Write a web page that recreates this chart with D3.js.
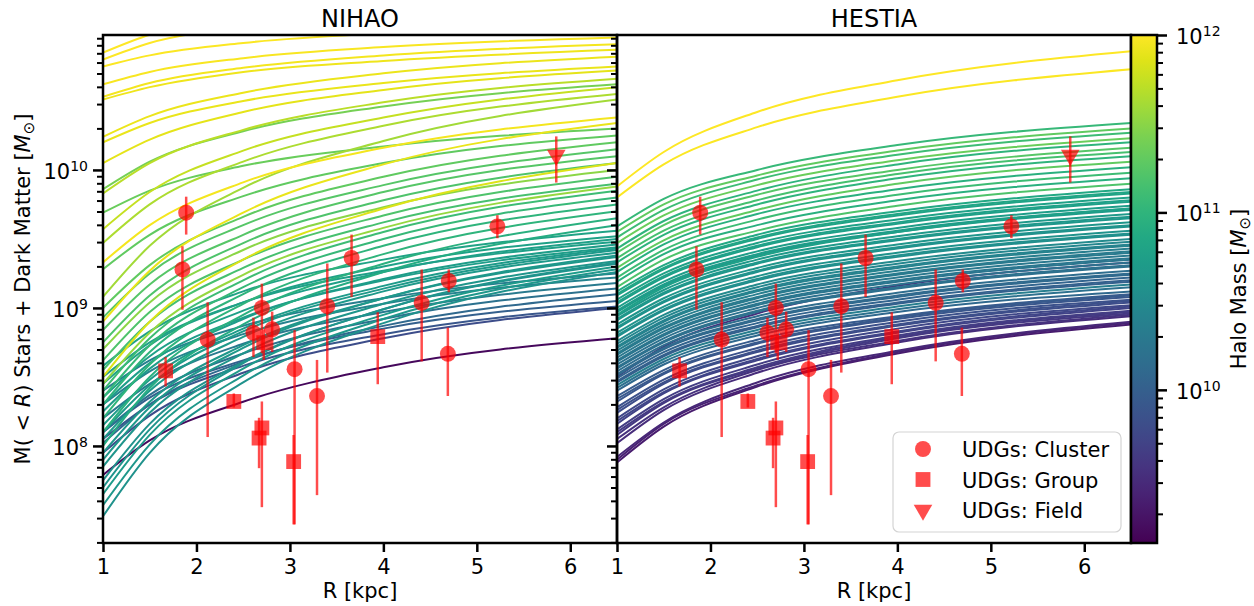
<!DOCTYPE html>
<html>
<head>
<meta charset="utf-8">
<script src="https://d3js.org/d3.v7.min.js"></script>
<style>
  body { margin: 0; background: #fff; }
  text { font-family: "DejaVu Sans", sans-serif; fill: #000; }
</style>
</head>
<body>
<script>
const profileRadii = [1, 1.5, 2.5, 4, 6.5];

// NIHAO: log10 halo mass, and log10 M(<R) at profileRadii
const nihaoHaloMass = [
  12.0, 12.0, 11.98, 11.97, 11.95, 11.93, 11.92, 11.9, 11.88, 11.95,
  11.9, 11.85, 11.75, 11.7, 11.65, 11.6, 11.4, 11.35, 11.3, 11.3,
  11.25, 11.25, 11.2, 11.5, 11.2, 11.15, 11.55, 11.1, 11.05, 11.0,
  11.0, 10.95, 10.9, 10.8, 10.78, 10.75, 10.72, 10.7, 10.68, 10.65,
  10.63, 10.6, 10.7, 10.65, 10.6, 10.75, 10.72, 10.68, 10.66, 10.62,
  10.4, 10.3, 10.2, 10.1, 10.0, 9.9, 9.8, 10.35, 9.2
];
const nihaoProfiles = [
  [10.85, 10.98, 11.10, 11.20, 11.27],
  [10.80, 10.92, 11.04, 11.13, 11.20],
  [10.75, 10.83, 10.92, 10.99, 11.05],
  [10.62, 10.71, 10.81, 10.89, 10.96],
  [10.53, 10.63, 10.74, 10.83, 10.91],
  [10.51, 10.60, 10.71, 10.79, 10.87],
  [10.24, 10.39, 10.56, 10.70, 10.82],
  [10.20, 10.34, 10.50, 10.63, 10.75],
  [10.05, 10.22, 10.42, 10.58, 10.72],
  [9.33, 9.60, 9.91, 10.16, 10.38],
  [8.90, 9.27, 9.69, 10.04, 10.34],
  [8.50, 8.90, 9.35, 9.72, 10.05],
  [9.57, 9.84, 10.14, 10.38, 10.60],
  [9.83, 10.05, 10.29, 10.49, 10.66],
  [9.47, 9.75, 10.06, 10.32, 10.55],
  [9.08, 9.45, 9.87, 10.21, 10.51],
  [9.86, 10.06, 10.28, 10.46, 10.62],
  [9.69, 9.85, 10.03, 10.17, 10.30],
  [9.28, 9.53, 9.81, 10.05, 10.25],
  [9.00, 9.31, 9.66, 9.95, 10.20],
  [8.93, 9.25, 9.60, 9.89, 10.15],
  [8.84, 9.17, 9.53, 9.84, 10.10],
  [8.75, 9.09, 9.47, 9.78, 10.05],
  [8.70, 9.04, 9.42, 9.73, 10.00],
  [8.62, 8.97, 9.35, 9.67, 9.95],
  [8.55, 8.90, 9.29, 9.62, 9.90],
  [8.45, 8.82, 9.24, 9.58, 9.88],
  [8.40, 8.78, 9.20, 9.55, 9.85],
  [8.35, 8.73, 9.15, 9.50, 9.80],
  [8.30, 8.68, 9.10, 9.45, 9.75],
  [8.20, 8.59, 9.03, 9.39, 9.70],
  [8.10, 8.50, 8.95, 9.32, 9.65],
  [8.00, 8.42, 8.88, 9.26, 9.60],
  [8.58, 8.83, 9.12, 9.35, 9.56],
  [8.45, 8.73, 9.04, 9.30, 9.52],
  [8.35, 8.65, 8.98, 9.26, 9.50],
  [8.25, 8.56, 8.92, 9.21, 9.46],
  [8.15, 8.48, 8.85, 9.16, 9.43],
  [8.05, 8.40, 8.79, 9.12, 9.40],
  [7.95, 8.32, 8.73, 9.07, 9.37],
  [7.85, 8.24, 8.67, 9.03, 9.34],
  [7.75, 8.16, 8.61, 8.99, 9.32],
  [7.65, 8.08, 8.56, 8.95, 9.30],
  [7.57, 8.01, 8.51, 8.92, 9.28],
  [7.49, 7.95, 8.46, 8.89, 9.26],
  [8.50, 8.75, 9.04, 9.27, 9.48],
  [8.30, 8.60, 8.93, 9.20, 9.44],
  [8.10, 8.44, 8.83, 9.14, 9.42],
  [7.90, 8.28, 8.71, 9.07, 9.38],
  [7.70, 8.12, 8.60, 8.99, 9.33],
  [8.30, 8.54, 8.81, 9.03, 9.22],
  [8.20, 8.45, 8.74, 8.97, 9.18],
  [8.10, 8.37, 8.67, 8.92, 9.14],
  [8.02, 8.30, 8.61, 8.87, 9.10],
  [8.10, 8.35, 8.62, 8.85, 9.05],
  [8.05, 8.30, 8.58, 8.81, 9.01],
  [7.95, 8.22, 8.53, 8.78, 9.00],
  [8.40, 8.62, 8.87, 9.07, 9.25],
  [7.79, 8.04, 8.32, 8.57, 8.78]
];

// HESTIA: same layout
const hestiaHaloMass = [
  12.0, 11.98, 11.05, 11.3, 11.1, 11.35, 11.0, 11.25, 11.15, 11.0,
  11.3, 10.95, 11.1, 10.95, 11.2, 10.85, 10.8, 10.78, 10.75, 10.72,
  10.7, 10.68, 10.65, 10.63, 10.6, 10.58, 10.55, 10.5, 10.75, 10.45,
  10.4, 10.35, 10.3, 10.28, 10.25, 10.2, 10.18, 10.15, 10.1, 10.05,
  10.0, 10.35, 10.2, 10.1, 9.95, 9.9, 9.85, 9.8, 9.75, 9.7,
  9.65, 9.6, 9.55, 9.5, 9.45, 9.4, 9.35, 9.5,
  10.42, 10.32, 10.26, 10.19, 10.12, 10.02,
  10.82, 10.76, 10.71, 10.66, 10.61, 10.56,
  9.92, 9.82, 9.72, 9.62
];
const hestiaProfiles = [
  [9.88, 10.13, 10.42, 10.65, 10.86],
  [9.80, 10.04, 10.31, 10.53, 10.73],
  [9.59, 9.79, 10.00, 10.18, 10.34],
  [9.55, 9.75, 9.96, 10.14, 10.30],
  [9.51, 9.71, 9.93, 10.11, 10.27],
  [9.47, 9.67, 9.89, 10.07, 10.23],
  [9.43, 9.63, 9.85, 10.04, 10.20],
  [9.40, 9.60, 9.82, 10.00, 10.16],
  [9.36, 9.56, 9.78, 9.97, 10.13],
  [9.33, 9.53, 9.75, 9.94, 10.10],
  [9.29, 9.49, 9.71, 9.90, 10.06],
  [9.26, 9.46, 9.68, 9.86, 10.02],
  [9.22, 9.42, 9.64, 9.82, 9.98],
  [9.19, 9.39, 9.60, 9.78, 9.94],
  [9.15, 9.35, 9.56, 9.74, 9.90],
  [9.12, 9.31, 9.53, 9.70, 9.86],
  [9.09, 9.28, 9.50, 9.67, 9.83],
  [9.06, 9.25, 9.47, 9.64, 9.80],
  [9.03, 9.22, 9.44, 9.61, 9.77],
  [9.00, 9.19, 9.41, 9.58, 9.74],
  [8.97, 9.16, 9.38, 9.55, 9.71],
  [8.94, 9.13, 9.35, 9.52, 9.68],
  [8.91, 9.10, 9.32, 9.49, 9.65],
  [8.88, 9.07, 9.29, 9.46, 9.62],
  [8.85, 9.04, 9.26, 9.43, 9.59],
  [8.82, 9.01, 9.23, 9.40, 9.56],
  [8.79, 8.98, 9.20, 9.37, 9.53],
  [8.76, 8.95, 9.17, 9.34, 9.50],
  [8.95, 9.15, 9.37, 9.55, 9.72],
  [8.74, 8.93, 9.15, 9.32, 9.48],
  [8.71, 8.90, 9.12, 9.29, 9.45],
  [8.69, 8.88, 9.10, 9.27, 9.43],
  [8.66, 8.85, 9.07, 9.24, 9.40],
  [8.64, 8.83, 9.05, 9.22, 9.38],
  [8.61, 8.80, 9.02, 9.19, 9.35],
  [8.59, 8.78, 9.00, 9.17, 9.33],
  [8.56, 8.75, 8.97, 9.14, 9.30],
  [8.54, 8.73, 8.94, 9.11, 9.27],
  [8.51, 8.70, 8.91, 9.08, 9.24],
  [8.49, 8.68, 8.89, 9.06, 9.22],
  [8.46, 8.65, 8.86, 9.03, 9.19],
  [8.44, 8.63, 8.84, 9.01, 9.17],
  [8.42, 8.61, 8.82, 8.99, 9.15],
  [8.40, 8.59, 8.80, 8.97, 9.12],
  [8.36, 8.55, 8.77, 8.94, 9.10],
  [8.32, 8.52, 8.74, 8.92, 9.08],
  [8.28, 8.48, 8.71, 8.90, 9.06],
  [8.24, 8.45, 8.68, 8.87, 9.04],
  [8.20, 8.41, 8.65, 8.85, 9.02],
  [8.16, 8.38, 8.62, 8.82, 9.00],
  [8.12, 8.34, 8.59, 8.80, 8.98],
  [8.08, 8.31, 8.56, 8.78, 8.96],
  [8.05, 8.28, 8.55, 8.76, 8.95],
  [8.02, 8.26, 8.53, 8.75, 8.94],
  [7.92, 8.17, 8.46, 8.69, 8.90],
  [7.90, 8.16, 8.44, 8.68, 8.89],
  [7.88, 8.14, 8.43, 8.67, 8.88],
  [8.50, 8.72, 8.96, 9.16, 9.33],
  [8.72, 8.91, 9.13, 9.30, 9.46],
  [8.67, 8.86, 9.08, 9.25, 9.41],
  [8.62, 8.81, 9.03, 9.20, 9.36],
  [8.57, 8.76, 8.98, 9.15, 9.31],
  [8.52, 8.71, 8.92, 9.09, 9.25],
  [8.47, 8.66, 8.87, 9.04, 9.20],
  [9.10, 9.29, 9.51, 9.68, 9.84],
  [9.04, 9.23, 9.45, 9.62, 9.78],
  [8.98, 9.17, 9.39, 9.56, 9.72],
  [8.92, 9.11, 9.33, 9.50, 9.66],
  [8.86, 9.05, 9.27, 9.44, 9.60],
  [8.80, 8.99, 9.21, 9.38, 9.54],
  [8.34, 8.53, 8.75, 8.93, 9.09],
  [8.26, 8.46, 8.69, 8.88, 9.05],
  [8.18, 8.39, 8.63, 8.83, 9.01],
  [8.10, 8.32, 8.57, 8.79, 8.97]
];

// observed UDGs (same in both panels)
const udgEnv = [
  'Cluster', 'Cluster', 'Cluster', 'Cluster', 'Cluster', 'Cluster', 'Cluster',
  'Cluster', 'Cluster', 'Cluster', 'Cluster', 'Cluster', 'Cluster', 'Cluster',
  'Group', 'Group', 'Group', 'Group', 'Group', 'Group', 'Group',
  'Field'
];
const udgR = [1.89, 1.85, 2.12, 2.61, 2.70, 2.81, 3.05, 3.29, 3.40, 3.66, 4.41, 4.70, 4.69, 5.22,
  1.67, 2.40, 2.70, 2.67, 2.72, 3.04, 3.94,
  5.85];
const udgMass = [4.9e9, 1.9e9, 5.9e8, 6.6e8, 1.0e9, 7.0e8, 3.6e8, 2.3e8, 1.03e9, 2.3e9, 1.09e9, 1.57e9, 4.65e8, 3.9e9,
  3.5e8, 2.1e8, 1.35e8, 1.14e8, 5.6e8, 7.7e7, 6.2e8,
  1.28e10];
const udgMassLo = [3.4e9, 0.97e9, 1.16e8, 4.4e8, 4.7e8, 4.8e8, 2.7e7, 4.4e7, 3.4e8, 1.2e9, 4.1e8, 1.3e9, 2.3e8, 3.2e9,
  2.7e8, 1.9e8, 3.6e7, 6.9e7, 4.2e8, 2.7e7, 2.8e8,
  8.1e9];
const udgMassHi = [6.4e9, 2.8e9, 1.1e9, 8.5e8, 1.5e9, 9.4e8, 6.9e8, 4.2e8, 2.1e9, 3.4e9, 1.9e9, 1.9e9, 7.2e8, 4.7e9,
  4.4e8, 2.4e8, 2.1e8, 1.6e8, 7.0e8, 1.2e8, 9.3e8,
  1.75e10];

const panelTitles = ['NIHAO', 'HESTIA'];
const xTicks = [1, 2, 3, 4, 5, 6];
const yMajor = [1e8, 1e9, 1e10];
const cbMajor = [1e10, 1e11, 1e12];
const legendEnvs = ['Cluster', 'Group', 'Field'];

// ---- layout ----
const plotTop = 35, plotBottom = 543;
const panelBounds = [[103, 617], [617, 1131]];
const cbLeft = 1131, cbRight = 1157;

const svg = d3.select('body').append('svg')
  .attr('width', 1254)
  .attr('height', 606);

const y = d3.scaleLog().domain([1.98e7, 9.5e10]).range([plotBottom, plotTop]);
const color = d3.scaleSequentialLog(d3.interpolateViridis).domain([1.37e9, 1e12]);
const yc = d3.scaleLog().domain([1.37e9, 1e12]).range([plotBottom, plotTop]);

function minorTicks(domain) {
  const out = [];
  for (let e = 6; e <= 12; e++) {
    for (let k = 2; k <= 9; k++) {
      const v = k * Math.pow(10, e);
      if (v > domain[0] && v < domain[1]) out.push(v);
    }
  }
  return out;
}

function powLabel(sel, exp) {
  sel.append('tspan').text('10');
  sel.append('tspan').attr('dy', -8).attr('font-size', 14).text(exp);
}

const symbolFor = {
  Cluster: d3.symbol(d3.symbolCircle, 200),
  Group: d3.symbol(d3.symbolSquare, 220),
  Field: d3.symbol(d3.symbolTriangle, 150)
};

panelBounds.forEach((b, i) => {
  const x = d3.scaleLinear().domain([1, 6.5]).range(b);
  const halo = i === 0 ? nihaoHaloMass : hestiaHaloMass;
  const profiles = i === 0 ? nihaoProfiles : hestiaProfiles;

  svg.append('clipPath').attr('id', 'clip' + i)
    .append('rect')
    .attr('x', b[0]).attr('y', plotTop)
    .attr('width', b[1] - b[0]).attr('height', plotBottom - plotTop);

  const line = d3.line()
    .x((d, j) => x(profileRadii[j]))
    .y(d => y(Math.pow(10, d)))
    .curve(d3.curveMonotoneX);

  // low mass first so the massive haloes sit on top
  const order = d3.range(profiles.length).sort((a, c) => halo[a] - halo[c]);

  svg.append('g')
    .attr('clip-path', `url(#clip${i})`)
    .selectAll('path')
    .data(order)
    .join('path')
    .attr('d', k => line(profiles[k]))
    .attr('fill', 'none')
    .attr('stroke', k => color(Math.pow(10, halo[k])))
    .attr('stroke-width', 2);

  // UDG points with error bars
  const pts = udgR.map((r, k) => ({
    r: r, m: udgMass[k], lo: udgMassLo[k], hi: udgMassHi[k], env: udgEnv[k]
  }));
  const pg = svg.append('g');
  pg.selectAll('line')
    .data(pts)
    .join('line')
    .attr('x1', d => x(d.r)).attr('x2', d => x(d.r))
    .attr('y1', d => y(d.lo)).attr('y2', d => y(d.hi))
    .attr('stroke', 'red')
    .attr('stroke-opacity', 0.7)
    .attr('stroke-width', 2.5);
  pg.selectAll('path')
    .data(pts)
    .join('path')
    .attr('d', d => symbolFor[d.env]())
    .attr('transform', d => `translate(${x(d.r)},${y(d.m)})` + (d.env === 'Field' ? ' rotate(180)' : ''))
    .attr('fill', 'red')
    .attr('fill-opacity', 0.7);

  // frame
  svg.append('rect')
    .attr('x', b[0]).attr('y', plotTop)
    .attr('width', b[1] - b[0]).attr('height', plotBottom - plotTop)
    .attr('fill', 'none')
    .attr('stroke', 'black')
    .attr('stroke-width', 2.5);

  // x axis
  const xa = svg.append('g')
    .attr('transform', `translate(0,${plotBottom})`)
    .call(d3.axisBottom(x).tickValues(xTicks).tickFormat(d3.format('d'))
      .tickSize(9).tickPadding(7).tickSizeOuter(0));
  xa.select('.domain').remove();
  xa.selectAll('line').attr('stroke-width', 2.5);
  xa.selectAll('text').attr('font-size', 21).attr('font-family', 'DejaVu Sans');

  // y axis (ticks on every panel, labels only on the first)
  const yMinorAxis = svg.append('g')
    .attr('transform', `translate(${b[0]},0)`)
    .call(d3.axisLeft(y).tickValues(minorTicks(y.domain())).tickSize(6).tickFormat(''));
  yMinorAxis.select('.domain').remove();
  yMinorAxis.selectAll('line').attr('stroke-width', 2);

  const yMajorAxis = svg.append('g')
    .attr('transform', `translate(${b[0]},0)`)
    .call(d3.axisLeft(y).tickValues(yMajor).tickSize(10).tickFormat(''));
  yMajorAxis.select('.domain').remove();
  yMajorAxis.selectAll('line').attr('stroke-width', 2.5);

  if (i === 0) {
    yMajor.forEach(v => {
      const t = svg.append('text')
        .attr('x', b[0] - 15)
        .attr('y', y(v) + 9)
        .attr('text-anchor', 'end')
        .attr('font-size', 21);
      powLabel(t, Math.round(Math.log10(v)));
    });
  }

  // title and x label
  svg.append('text')
    .attr('x', (b[0] + b[1]) / 2)
    .attr('y', 27)
    .attr('text-anchor', 'middle')
    .attr('font-size', 24)
    .text(panelTitles[i]);

  svg.append('text')
    .attr('x', (b[0] + b[1]) / 2)
    .attr('y', 598)
    .attr('text-anchor', 'middle')
    .attr('font-size', 21)
    .text('R [kpc]');
});

// y label
const yl = svg.append('text')
  .attr('transform', 'translate(30,289) rotate(-90)')
  .attr('text-anchor', 'middle')
  .attr('font-size', 21);
yl.append('tspan').text('M( < ');
yl.append('tspan').attr('font-style', 'italic').text('R');
yl.append('tspan').text(') Stars + Dark Matter [');
yl.append('tspan').attr('font-style', 'italic').text('M');
yl.append('tspan').attr('dy', 4).attr('font-size', 15).text('⊙');
yl.append('tspan').attr('dy', -4).text(']');

// legend
const lg = svg.append('g');
lg.append('rect')
  .attr('x', 893).attr('y', 432)
  .attr('width', 228).attr('height', 100)
  .attr('rx', 6)
  .attr('fill', 'white').attr('fill-opacity', 0.8)
  .attr('stroke', '#d4d4d4').attr('stroke-width', 1.2);
legendEnvs.forEach((env, k) => {
  const ry = 449 + k * 30.5;
  lg.append('path')
    .attr('d', symbolFor[env]())
    .attr('transform', `translate(923,${ry})` + (env === 'Field' ? ' rotate(180)' : ''))
    .attr('fill', 'red')
    .attr('fill-opacity', 0.7);
  lg.append('text')
    .attr('x', 962)
    .attr('y', ry + 8)
    .attr('font-size', 21)
    .text('UDGs: ' + env);
});

// colorbar
const grad = svg.append('defs').append('linearGradient')
  .attr('id', 'cbgrad')
  .attr('x1', 0).attr('y1', 1).attr('x2', 0).attr('y2', 0);
d3.range(0, 1.0001, 0.05).forEach(t => {
  grad.append('stop')
    .attr('offset', t)
    .attr('stop-color', d3.interpolateViridis(t));
});
svg.append('rect')
  .attr('x', cbLeft).attr('y', plotTop)
  .attr('width', cbRight - cbLeft).attr('height', plotBottom - plotTop)
  .attr('fill', 'url(#cbgrad)')
  .attr('stroke', 'black')
  .attr('stroke-width', 2.5);

const cbMinorAxis = svg.append('g')
  .attr('transform', `translate(${cbRight},0)`)
  .call(d3.axisRight(yc).tickValues(minorTicks(yc.domain())).tickSize(6).tickFormat(''));
cbMinorAxis.select('.domain').remove();
cbMinorAxis.selectAll('line').attr('stroke-width', 2);

const cbMajorAxis = svg.append('g')
  .attr('transform', `translate(${cbRight},0)`)
  .call(d3.axisRight(yc).tickValues(cbMajor).tickSize(10).tickFormat(''));
cbMajorAxis.select('.domain').remove();
cbMajorAxis.selectAll('line').attr('stroke-width', 2.5);

cbMajor.forEach(v => {
  const t = svg.append('text')
    .attr('x', 1176)
    .attr('y', yc(v) + 9)
    .attr('font-size', 21);
  powLabel(t, Math.round(Math.log10(v)));
});

const cl = svg.append('text')
  .attr('transform', 'translate(1246,289) rotate(-90)')
  .attr('text-anchor', 'middle')
  .attr('font-size', 21);
cl.append('tspan').text('Halo Mass [');
cl.append('tspan').attr('font-style', 'italic').text('M');
cl.append('tspan').attr('dy', 4).attr('font-size', 15).text('⊙');
cl.append('tspan').attr('dy', -4).text(']');
</script>
</body>
</html>
